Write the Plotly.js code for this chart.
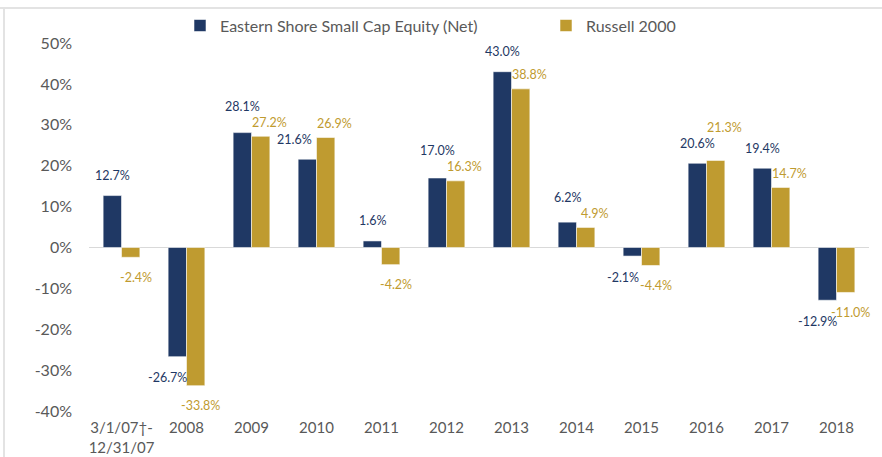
<!DOCTYPE html>
<html>
<head>
<meta charset="utf-8">
<script src="https://cdn.plot.ly/plotly-3.0.1.min.js"></script>
<style>
  html, body { margin: 0; padding: 0; background: #fff; }
  #chart { position: absolute; left: 0; top: 0; width: 882px; height: 457px; }
  .hline { position: absolute; left: 0; top: 7px; width: 882px; height: 2px; background: #e3e3e3; }
  .vline { position: absolute; left: 3px; top: 7px; width: 2px; height: 450px; background: #e3e3e3; }
</style>
</head>
<body>
<div id="chart"></div>
<div class="hline"></div>
<div class="vline"></div>
<script>
const categories = ["3/1/07†-<br>12/31/07", "2008", "2009", "2010", "2011", "2012", "2013", "2014", "2015", "2016", "2017", "2018"];
const easternShore = [12.7, -26.7, 28.1, 21.6, 1.6, 17.0, 43.0, 6.2, -2.1, 20.6, 19.4, -12.9];
const russell2000 = [-2.4, -33.8, 27.2, 26.9, -4.2, 16.3, 38.8, 4.9, -4.4, 21.3, 14.7, -11.0];
const yTicks = [-40, -30, -20, -10, 0, 10, 20, 30, 40, 50];

const navy = '#1F3864';
const gold = '#BF9B30';
const font = 'Lato, "Open Sans", sans-serif';

const traces = [
  {
    type: 'bar', name: 'Eastern Shore Small Cap Equity (Net)',
    x: categories, y: easternShore, legend: 'legend',
    marker: { color: navy, line: { color: 'rgba(255,255,255,0.55)', width: 1 } },
    hoverinfo: 'skip'
  },
  {
    type: 'bar', name: 'Russell 2000',
    x: categories, y: russell2000, legend: 'legend2',
    marker: { color: gold, line: { color: 'rgba(255,255,255,0.55)', width: 1 } },
    hoverinfo: 'skip'
  }
];

// Label placement: px per % from the fixed axis geometry, with simple collision avoidance.
const plotH = 457 - 42.5 - 45.5;
const pxPerUnit = plotH / (50 - (-40));
const annotations = [];
easternShore.forEach((nv, i) => {
  const gv = russell2000[i];
  let nShift = nv >= 0 ? 20 : -21;
  let gShift = gv >= 0 ? 14 : -20;
  let nX = nv >= 0 ? -9 : -19;
  if (nv >= 0 && gv >= 0) {
    const nTop = nv * pxPerUnit + nShift;
    const gTop = gv * pxPerUnit + gShift;
    if (Math.abs(nTop - gTop) < 16) {
      if (nv >= gv) nShift = gTop + 16 - nv * pxPerUnit;
      else gShift = nTop + 16 - gv * pxPerUnit;
    }
    // navy label would sit against the taller gold bar: slide it left
    if (gv * pxPerUnit > nv * pxPerUnit + nShift - 8) nX = -22;
  }
  annotations.push({
    x: i, y: nv, xref: 'x', yref: 'y', text: nv.toFixed(1) + '%', showarrow: false,
    xshift: nX, yshift: nShift, font: { family: font, size: 12.5, color: navy }
  });
  annotations.push({
    x: i, y: gv, xref: 'x', yref: 'y', text: gv.toFixed(1) + '%', showarrow: false,
    xshift: gv >= 0 ? 18 : 14, yshift: gShift, font: { family: font, size: 12.5, color: gold }
  });
});

const legendCommon = {
  orientation: 'h', xref: 'container', yref: 'container', xanchor: 'left',
  y: 0.944, yanchor: 'middle', itemwidth: 30, bgcolor: 'rgba(0,0,0,0)',
  font: { family: font, size: 16, color: '#595959' }
};

const layout = {
  width: 882, height: 457,
  margin: { l: 89, r: 13, t: 42.5, b: 45.5 },
  paper_bgcolor: 'rgba(0,0,0,0)', plot_bgcolor: 'rgba(0,0,0,0)',
  barmode: 'group', bargap: 0.435, bargroupgap: 0,
  showlegend: true,
  legend: Object.assign({}, legendCommon, { x: 180 / 882 }),
  legend2: Object.assign({}, legendCommon, { x: 546 / 882 }),
  xaxis: {
    type: 'category', range: [-0.5, 11.5], autorange: false,
    showgrid: false, zeroline: false, showline: false,
    ticks: '', tickfont: { family: font, size: 15, color: '#595959' },
    ticklabelstandoff: 6, fixedrange: true
  },
  yaxis: {
    range: [-40, 50], autorange: false, tickvals: yTicks, ticktext: yTicks.map(v => v + '%'),
    showgrid: false, zeroline: true, zerolinecolor: '#d9d9d9', zerolinewidth: 1.5,
    showline: false, ticks: '',
    tickfont: { family: font, size: 16, color: '#595959' },
    ticklabelstandoff: 16, fixedrange: true
  },
  annotations: annotations
};

Plotly.newPlot('chart', traces, layout, { displayModeBar: false, staticPlot: true });
</script>
</body>
</html>
